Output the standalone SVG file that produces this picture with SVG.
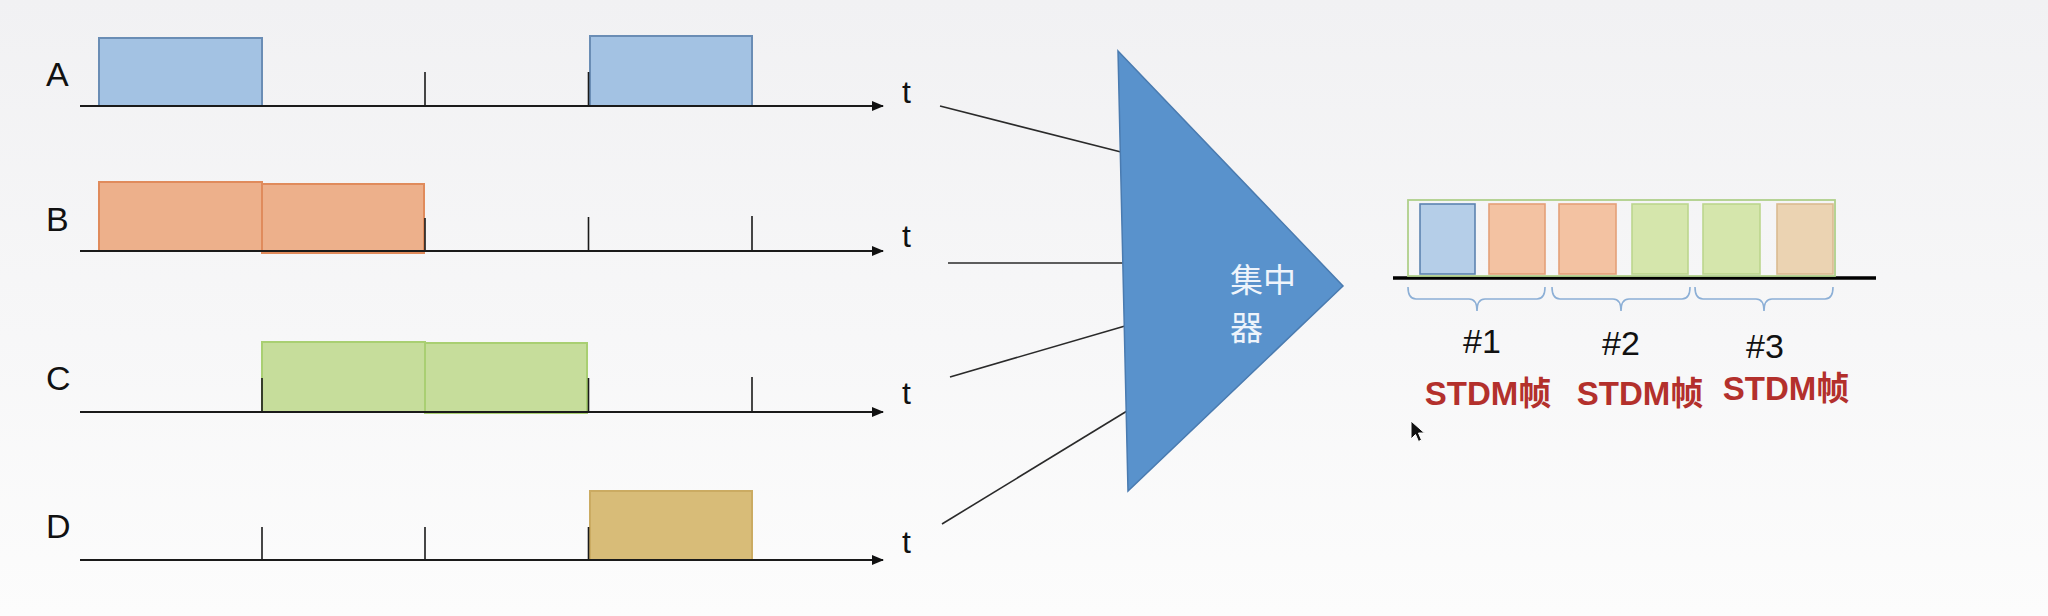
<svg xmlns="http://www.w3.org/2000/svg" width="2048" height="616" viewBox="0 0 2048 616">
<defs>
<linearGradient id="bg" x1="0" y1="0" x2="0" y2="1">
<stop offset="0" stop-color="#f1f1f3"/>
<stop offset="1" stop-color="#fcfcfc"/>
</linearGradient>
<marker id="arr" viewBox="0 0 12 10" refX="11" refY="5" markerWidth="12" markerHeight="10" markerUnits="userSpaceOnUse" orient="auto">
<path d="M0,0 L12,5 L0,10 z" fill="#111"/>
</marker>
<style>
.lbl{font-family:"Liberation Sans","DejaVu Sans",sans-serif;font-size:34px;fill:#111}
.t{font-family:"Liberation Sans","DejaVu Sans",sans-serif;font-size:32px;fill:#111}
.axis{stroke:#1a1a1a;stroke-width:2.2;fill:none}
.tick{stroke:#1a1a1a;stroke-width:1.6}
.a{fill:#a3c2e3;stroke:#6a8db5;stroke-width:2}
.b{fill:#edb08b;stroke:#e08b5c;stroke-width:2}
.c{fill:#c6dd9b;stroke:#a9cf72;stroke-width:2}
.d{fill:#d8bc78;stroke:#cbab62;stroke-width:2}
.conn{stroke:#2a2a2a;stroke-width:1.6;fill:none}
.fa{fill:#b5cee8;stroke:#5d84b0;stroke-width:1.6}
.fb{fill:#f3c2a2;stroke:#e4a078;stroke-width:1.6}
.fc{fill:#d5e6ac;stroke:#bcd68e;stroke-width:1.6}
.fd{fill:#ebd3b2;stroke:#dabb90;stroke-width:1.6}
.brace{stroke:#8cafd6;stroke-width:1.6;fill:none}
.num{font-family:"Liberation Sans","DejaVu Sans",sans-serif;font-size:34px;fill:#111;text-anchor:middle}
.stdm{font-family:"Liberation Sans","Noto Sans CJK SC",sans-serif;font-size:33px;font-weight:bold;fill:#b3302c;text-anchor:middle}
.hub{font-family:"Noto Sans CJK SC","Noto Sans CJK JP",sans-serif;font-size:33px;fill:#eef4fb}
</style>
</defs>
<rect width="2048" height="616" fill="url(#bg)"/>

<g id="lineA">
<rect class="a" x="99" y="38" width="163" height="68"/>
<rect class="a" x="590" y="36" width="162" height="70"/>
<line class="tick" x1="425" y1="72" x2="425" y2="106"/>
<line class="tick" x1="588.5" y1="72" x2="588.5" y2="106"/>
<line class="axis" x1="80" y1="106" x2="883" y2="106" marker-end="url(#arr)"/>
<text class="lbl" x="46" y="86">A</text>
<text class="t" x="902" y="103">t</text>
</g>

<g id="lineB">
<rect class="b" x="99" y="182" width="163" height="69"/>
<rect class="b" x="262" y="184" width="162" height="69"/>
<line class="tick" x1="425" y1="218" x2="425" y2="251"/>
<line class="tick" x1="588.5" y1="217" x2="588.5" y2="251"/>
<line class="tick" x1="752" y1="216" x2="752" y2="251"/>
<line class="axis" x1="80" y1="251" x2="883" y2="251" marker-end="url(#arr)"/>
<text class="lbl" x="46" y="231">B</text>
<text class="t" x="902" y="247">t</text>
</g>

<g id="lineC">
<rect class="c" x="262" y="342" width="163" height="70"/>
<rect class="c" x="425" y="343" width="162" height="70"/>
<line class="tick" x1="262" y1="378" x2="262" y2="412"/>
<line class="tick" x1="588.5" y1="378" x2="588.5" y2="412"/>
<line class="tick" x1="752" y1="377" x2="752" y2="412"/>
<line class="axis" x1="80" y1="412" x2="883" y2="412" marker-end="url(#arr)"/>
<text class="lbl" x="46" y="390">C</text>
<text class="t" x="902" y="404">t</text>
</g>

<g id="lineD">
<rect class="d" x="590" y="491" width="162" height="69"/>
<line class="tick" x1="262" y1="527" x2="262" y2="560"/>
<line class="tick" x1="425" y1="527" x2="425" y2="560"/>
<line class="tick" x1="588.5" y1="527" x2="588.5" y2="560"/>
<line class="axis" x1="80" y1="560" x2="883" y2="560" marker-end="url(#arr)"/>
<text class="lbl" x="46" y="538">D</text>
<text class="t" x="902" y="553">t</text>
</g>

<g id="connectors">
<line class="conn" x1="940" y1="106" x2="1121" y2="152"/>
<line class="conn" x1="948" y1="263" x2="1124" y2="263"/>
<line class="conn" x1="950" y1="377" x2="1125" y2="326"/>
<line class="conn" x1="942" y1="524" x2="1127" y2="411"/>
</g>

<g id="concentrator">
<polygon points="1118,51 1343,286 1128,491" fill="#5992cc" stroke="#4a7bb0" stroke-width="1.5"/>
<text class="hub" x="1230" y="292">集中</text>
<text class="hub" x="1230" y="340">器</text>
</g>

<g id="stdm">
<line x1="1393" y1="278" x2="1876" y2="278" stroke="#000" stroke-width="3.6"/>
<rect x="1408" y="200" width="427" height="76" fill="none" stroke="#b0d08a" stroke-width="1.8"/>
<rect class="fa" x="1420" y="204" width="55" height="70"/>
<rect class="fb" x="1489" y="204" width="56" height="70"/>
<rect class="fb" x="1559" y="204" width="57" height="70"/>
<rect class="fc" x="1632" y="204" width="56" height="70"/>
<rect class="fc" x="1703" y="204" width="57" height="70"/>
<rect class="fd" x="1777" y="204" width="56" height="70"/>
<path class="brace" d="M1408,287 Q1408,299 1416,299 L1469,299 Q1477,299 1477,311 Q1477,299 1485,299 L1537,299 Q1545,299 1545,287"/>
<path class="brace" d="M1552,287 Q1552,299 1560,299 L1613,299 Q1621,299 1621,311 Q1621,299 1629,299 L1682,299 Q1690,299 1690,287"/>
<path class="brace" d="M1695,287 Q1695,299 1703,299 L1756,299 Q1764,299 1764,311 Q1764,299 1772,299 L1825,299 Q1833,299 1833,287"/>
<text class="num" x="1482" y="353">#1</text>
<text class="num" x="1621" y="355">#2</text>
<text class="num" x="1765" y="358">#3</text>
<text class="stdm" x="1488" y="405">STDM帧</text>
<text class="stdm" x="1640" y="405">STDM帧</text>
<text class="stdm" x="1786" y="400">STDM帧</text>
</g>

<path d="M1411,421 L1411,439 L1415.5,434.5 L1418.5,441.5 L1421.5,440 L1418.5,433 L1424.5,433 Z" fill="#111" stroke="#fff" stroke-width="1"/>
</svg>
